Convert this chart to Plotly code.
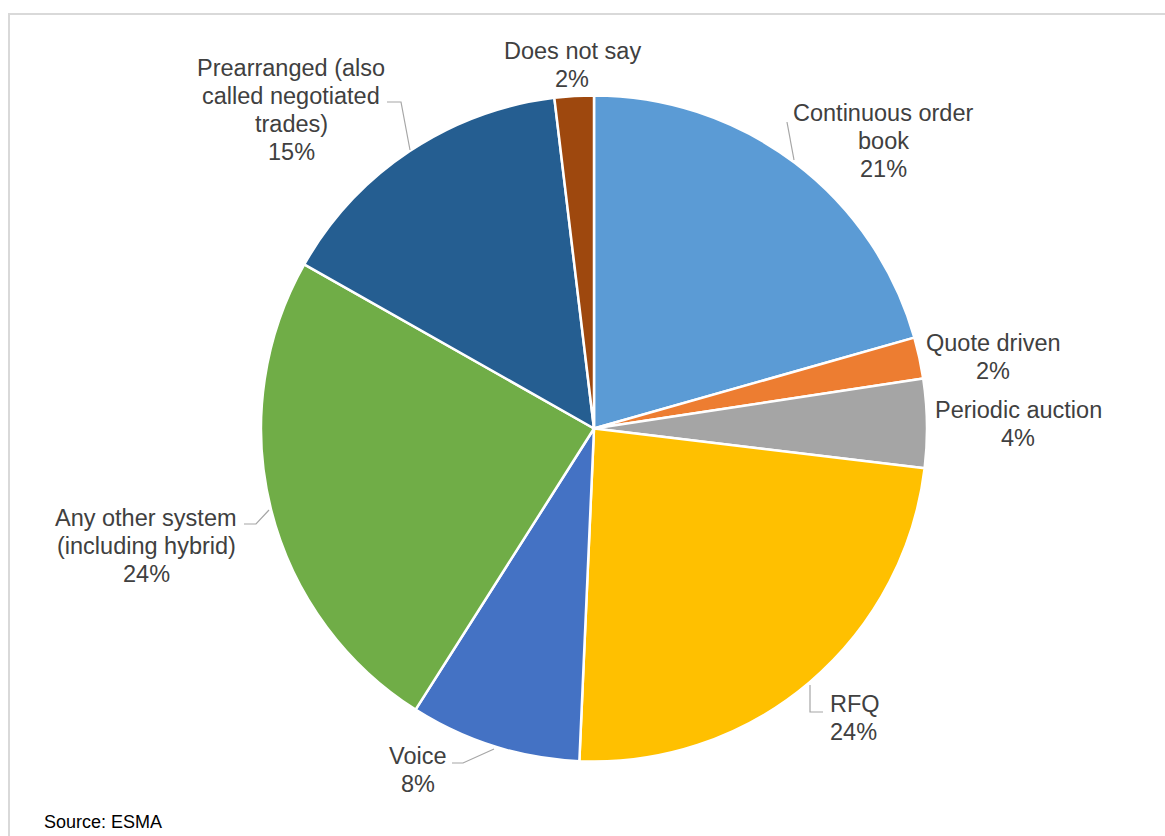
import plotly.graph_objects as go

# Share of trading venues by trading system
categories = [
    "Continuous order book",
    "Quote driven",
    "Periodic auction",
    "RFQ",
    "Voice",
    "Any other system (including hybrid)",
    "Prearranged (also called negotiated trades)",
    "Does not say",
]
shares = [20.6, 2.0, 4.3, 23.8, 8.3, 24.2, 14.9, 1.9]
colors = ["#5B9BD5", "#ED7D31", "#A5A5A5", "#FFC000",
          "#4472C4", "#70AD47", "#255E91", "#9E480E"]

# How each category name wraps in its label
label_lines = [
    ["Continuous order", "book"],
    ["Quote driven"],
    ["Periodic auction"],
    ["RFQ"],
    ["Voice"],
    ["Any other system", "(including hybrid)"],
    ["Prearranged (also", "called negotiated", "trades)"],
    ["Does not say"],
]

W, H = 1165, 836
CX, CY, R = 594, 428.5, 333

# Label block centres (pixels) and alignment
label_pos = [
    (883, 141, "center"),
    (993, 357, "center"),
    (1018, 424, "center"),
    (828, 718, "left"),
    (418, 770, "center"),
    (146, 546, "center"),
    (291, 110, "center"),
    (572, 65, "center"),
]

# Leader lines (pixel polylines)
leaders = [
    [(787, 122), (794, 160)],
    None,
    None,
    [(810, 685), (810, 712), (823, 712)],
    [(452, 763), (463, 763), (494, 749)],
    [(244, 524), (256, 524), (269, 510)],
    [(387, 102), (401, 102), (410, 150)],
    None,
]

LINE_H = 28
FONT = "Liberation Sans, Arial, sans-serif"
TEXT_COLOR = "#404040"


def px(x):
    return x / W


def py(y):
    return 1 - y / H


fig = go.Figure(
    go.Pie(
        labels=categories,
        values=shares,
        sort=False,
        direction="clockwise",
        rotation=0,
        marker=dict(colors=colors, line=dict(color="white", width=2.5)),
        textinfo="none",
        hoverinfo="label+percent",
        domain=dict(x=[px(CX - R), px(CX + R)], y=[py(CY + R), py(CY - R)]),
    )
)

total = sum(shares)
annotations = []
for lines, val, (lx, ly, align) in zip(label_lines, shares, label_pos):
    all_lines = lines + [f"{round(val / total * 100)}%"]
    n = len(all_lines)
    for i, text in enumerate(all_lines):
        yy = ly + (i - (n - 1) / 2) * LINE_H
        annotations.append(dict(
            x=px(lx), y=py(yy), xref="paper", yref="paper",
            text=text, showarrow=False,
            xanchor="left" if align == "left" else "center",
            yanchor="middle",
            font=dict(family=FONT, size=23.5, color=TEXT_COLOR),
        ))

annotations.append(dict(
    x=px(42), y=py(822), xref="paper", yref="paper",
    text="Source: ESMA", showarrow=False,
    xanchor="left", yanchor="middle",
    font=dict(family=FONT, size=18, color="#000000"),
))

shapes = []
for pts in leaders:
    if not pts:
        continue
    path = "M " + " L ".join(f"{px(x)},{py(y)}" for x, y in pts)
    shapes.append(dict(type="path", xref="paper", yref="paper", path=path,
                       line=dict(color="#A6A6A6", width=1.2)))

# Chart frame
shapes.append(dict(type="rect", xref="paper", yref="paper",
                   x0=px(9), y0=-0.02, x1=1.02, y1=py(14),
                   line=dict(color="#D9D9D9", width=2), fillcolor="rgba(0,0,0,0)"))

fig.update_layout(
    width=W, height=H,
    margin=dict(l=0, r=0, t=0, b=0),
    paper_bgcolor="white",
    plot_bgcolor="white",
    showlegend=False,
    annotations=annotations,
    shapes=shapes,
)

fig.write_html("out.html")
